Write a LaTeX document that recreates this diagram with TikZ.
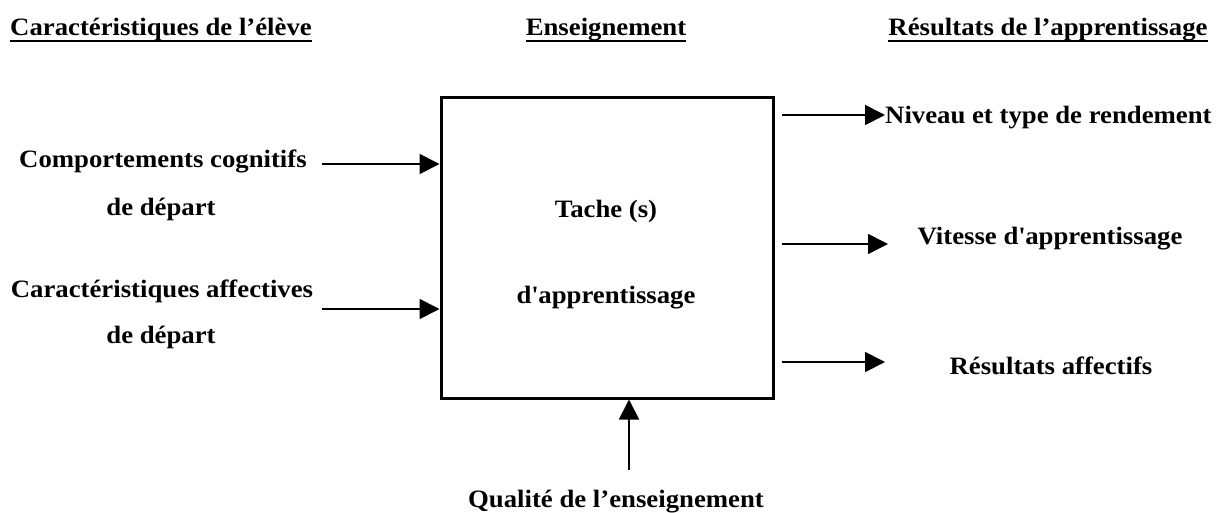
\documentclass[tikz,border=0pt]{standalone}
\usepackage{fontspec}
\setmainfont{Liberation Serif}
\usetikzlibrary{arrows.meta}
\begin{document}
\begin{tikzpicture}[x=1pt,y=-1pt,
  lbl/.style={font=\bfseries\fontsize{25}{29}\selectfont\addfontfeature{FakeStretch=1.07}, inner sep=0pt, anchor=base},
  arr/.style={line width=1.8pt, -{Triangle[length=20pt,width=20pt]}},
  uline/.style={line width=2pt},
  box/.style={draw, line width=3pt, minimum width=332pt, minimum height=301pt, inner sep=0pt}]
\useasboundingbox (0,0) rectangle (1218,512);
% titles
\node[lbl] (t1) at (161,35) {Caractéristiques de l’élève};
\node[lbl] (t2) at (606,35) {Enseignement};
\node[lbl] (t3) at (1048,35) {Résultats de l’apprentissage};
\foreach \t in {t1,t2,t3}
  \draw[uline] ([yshift=-6pt]\t.base west) -- ([yshift=-6pt]\t.base east);
% box
\node[box] (box) at (607,247.5) {};
\node[lbl] (tache) at (606,217) {Tache (s)};
\node[lbl] (dapp) at (606,303) {d\textquotesingle apprentissage};
% left texts
\node[lbl] (cog1) at (163,167) {Comportements cognitifs};
\node[lbl] (cog2) at (161,215) {de départ};
\node[lbl] (aff1) at (162,297) {Caractéristiques affectives};
\node[lbl] (aff2) at (161,343) {de départ};
% right texts
\node[lbl, anchor=base west] (niv) at (885,123) {Niveau et type de rendement};
\node[lbl] (vit) at (1050,244) {Vitesse d\textquotesingle apprentissage};
\node[lbl] (res) at (1051,374) {Résultats affectifs};
% bottom
\node[lbl] (qual) at (616,507) {Qualité de l’enseignement};
% arrows
\coordinate (a1) at (322,164);
\coordinate (a2) at (322,309);
\draw[arr] (a1) -- (a1 -| box.west);
\draw[arr] (a2) -- (a2 -| box.west);
\coordinate (b1) at (629,470);
\draw[arr] (b1) -- (b1 |- box.south);
\coordinate (r1) at (782,115);
\coordinate (r2) at (782,244);
\coordinate (r3) at (782,362);
\draw[arr] (r1) -- (r1 -| niv.west);
\coordinate (e2) at (888,244);
\coordinate (e3) at (885,362);
\draw[arr] (r2) -- (e2);
\draw[arr] (r3) -- (e3);
\end{tikzpicture}
\end{document}
